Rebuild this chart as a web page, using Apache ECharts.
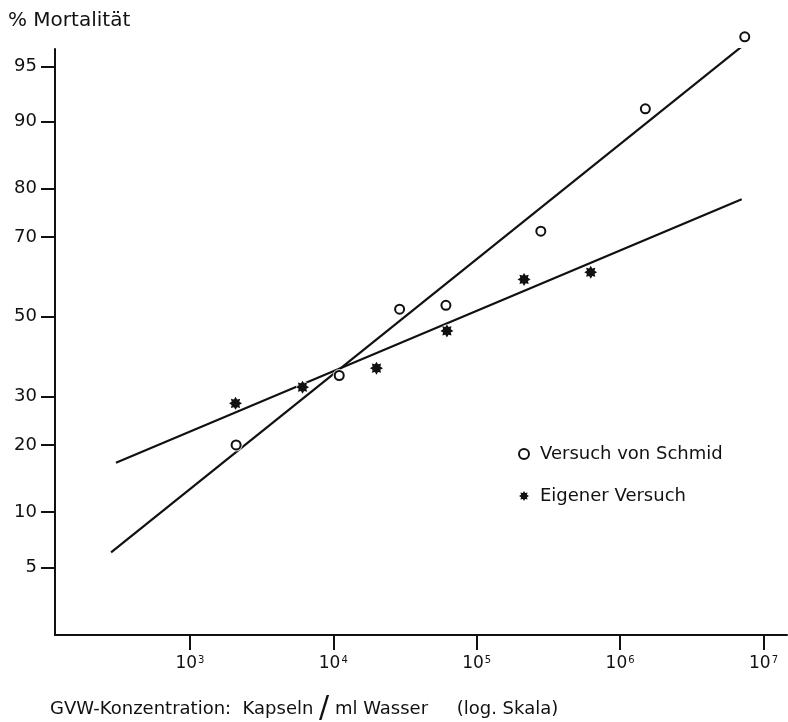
<!DOCTYPE html>
<html>
<head>
<meta charset="utf-8">
<script src="https://cdn.jsdelivr.net/npm/echarts@6/dist/echarts.min.js"></script>
<style>
  html, body { margin: 0; padding: 0; background: #ffffff; }
  #chart { width: 788px; height: 722px; }
</style>
</head>
<body>
<div id="chart"></div>
<script>
// Mortality (%) against capsule concentration, drawn on probit paper:
// the y axis is the normal quantile of the mortality, the x axis is log10 of the concentration.

const percentTicks = [5, 10, 20, 30, 50, 70, 80, 90, 95];
const decadeTicks = [3, 4, 5, 6, 7];

// Versuch von Schmid: capsules per ml and mortality in %
const schmidConc = [2100, 11000, 29000, 61000, 280000, 1500000, 7400000];
const schmidMort = [20, 35, 52, 53, 71.3, 91.4, 96.7];
// its regression line (two end points)
const schmidLineConc = [282, 7050000];
const schmidLineMort = [6.1, 96.2];

// Eigener Versuch
const eigenConc = [2080, 6100, 20000, 62000, 214000, 624000];
const eigenMort = [28.5, 32.2, 36.8, 46.3, 59.7, 61.5];
const eigenLineConc = [305, 7050000];
const eigenLineMort = [16.9, 78.0];

const FONT = 'DejaVu Sans';
const INK = '#111111';

// inverse of the standard normal distribution (Acklam's approximation)
function probit(p) {
  const a = [-3.969683028665376e+01, 2.209460984245205e+02, -2.759285104469687e+02, 1.383577518672690e+02, -3.066479806614716e+01, 2.506628277459239e+00];
  const b = [-5.447609879822406e+01, 1.615858368580409e+02, -1.556989798598866e+02, 6.680131188771972e+01, -1.328068155288572e+01];
  const c = [-7.784894002430293e-03, -3.223964580411365e-01, -2.400758277161838e+00, -2.549732539343734e+00, 4.374664141464968e+00, 2.938163982698783e+00];
  const d = [7.784695709041462e-03, 3.224671290700398e-01, 2.445134137142996e+00, 3.754408661907416e+00];
  const pl = 0.02425;
  let q, r;
  if (p < pl) {
    q = Math.sqrt(-2 * Math.log(p));
    return (((((c[0]*q+c[1])*q+c[2])*q+c[3])*q+c[4])*q+c[5]) / ((((d[0]*q+d[1])*q+d[2])*q+d[3])*q+1);
  }
  if (p > 1 - pl) {
    q = Math.sqrt(-2 * Math.log(1 - p));
    return -(((((c[0]*q+c[1])*q+c[2])*q+c[3])*q+c[4])*q+c[5]) / ((((d[0]*q+d[1])*q+d[2])*q+d[3])*q+1);
  }
  q = p - 0.5; r = q * q;
  return (((((a[0]*r+a[1])*r+a[2])*r+a[3])*r+a[4])*r+a[5])*q / (((((b[0]*r+b[1])*r+b[2])*r+b[3])*r+b[4])*r+1);
}

const toPoint = (conc, mort) => conc.map((v, i) => [Math.log10(v), probit(mort[i] / 100)]);

// filled eight-pointed star used for the own trial
function starPath(n, rOut, rIn) {
  let s = '';
  for (let i = 0; i < 2 * n; i++) {
    const r = i % 2 ? rIn : rOut;
    const ang = Math.PI * i / n - Math.PI / 2;
    s += (i ? 'L' : 'M') + (50 + r * Math.cos(ang)).toFixed(2) + ' ' + (50 + r * Math.sin(ang)).toFixed(2);
  }
  return 'path://' + s + 'Z';
}
const STAR = starPath(8, 50, 32);

const yTickValues = percentTicks.map(p => probit(p / 100));
function percentLabel(v) {
  let best = percentTicks[0], bd = Infinity;
  percentTicks.forEach((p, i) => {
    const dd = Math.abs(yTickValues[i] - v);
    if (dd < bd) { bd = dd; best = p; }
  });
  return String(best);
}

const schmidPts = toPoint(schmidConc, schmidMort);
const eigenPts = toPoint(eigenConc, eigenMort);

const chart = echarts.init(document.getElementById('chart'), null, { renderer: 'canvas' });

chart.setOption({
  backgroundColor: '#ffffff',
  animation: false,
  grid: { left: 55, right: 1, top: 49, bottom: 87 },
  xAxis: {
    type: 'value',
    min: 2.0593,
    max: 7.1639,
    splitLine: { show: false },
    axisLine: { onZero: false, lineStyle: { color: INK, width: 2 } },
    axisTick: { customValues: decadeTicks, length: 15, lineStyle: { color: INK, width: 2 } },
    axisLabel: {
      customValues: decadeTicks,
      margin: 20,
      formatter: v => '{b|10}{s|' + v + '}',
      rich: {
        b: { fontFamily: FONT, fontSize: 17, color: INK },
        s: { fontFamily: FONT, fontSize: 10, color: INK, verticalAlign: 'top', padding: [0, 0, 8, 1] }
      }
    }
  },
  yAxis: {
    type: 'value',
    min: -2.0893,
    max: 1.7584,
    splitLine: { show: false },
    axisLine: { onZero: false, lineStyle: { color: INK, width: 2 } },
    axisTick: { customValues: yTickValues, length: 14, lineStyle: { color: INK, width: 2 } },
    axisLabel: {
      customValues: yTickValues,
      margin: 18,
      formatter: v => percentLabel(v),
      fontFamily: FONT, fontSize: 18, color: INK
    }
  },
  legend: {
    orient: 'vertical',
    left: 513,
    top: 439,
    itemWidth: 10,
    itemHeight: 10,
    itemGap: 22,
    data: ['Versuch von Schmid', 'Eigener Versuch'],
    textStyle: { fontFamily: FONT, fontSize: 18, color: INK, lineHeight: 20, padding: [0, 0, 0, 6] }
  },
  graphic: [
    {
      type: 'text', left: 8, top: 11,
      style: { text: '% Mortalität', fontFamily: FONT, fontSize: 20, fill: INK }
    },
    {
      type: 'text', left: 50, top: 694,
      style: {
        text: 'GVW-Konzentration:  Kapseln {sl|/} ml Wasser     (log. Skala)',
        fontFamily: FONT, fontSize: 18, fill: INK,
        rich: { sl: { fontFamily: FONT, fontSize: 30, fill: INK } }
      }
    }
  ],
  series: [
    {
      name: 'Schmid-Gerade', type: 'line', z: 1,
      data: toPoint(schmidLineConc, schmidLineMort),
      symbol: 'none', lineStyle: { color: INK, width: 2.2 }
    },
    {
      name: 'Eigene Gerade', type: 'line', z: 1,
      data: toPoint(eigenLineConc, eigenLineMort),
      symbol: 'none', lineStyle: { color: INK, width: 2.2 }
    },
    {
      name: 'halo', type: 'scatter', z: 2, silent: true, clip: false,
      data: schmidPts.concat(eigenPts),
      symbol: 'circle', symbolSize: 13,
      itemStyle: { color: '#ffffff' }
    },
    {
      name: 'Versuch von Schmid', type: 'scatter', z: 3, clip: false,
      data: schmidPts,
      symbol: 'circle', symbolSize: 9,
      itemStyle: { color: '#ffffff', borderColor: INK, borderWidth: 2, opacity: 1 }
    },
    {
      name: 'Eigener Versuch', type: 'scatter', z: 3, clip: false,
      data: eigenPts,
      symbol: STAR, symbolSize: 13,
      itemStyle: { color: INK, opacity: 1 }
    }
  ]
});
</script>
</body>
</html>
